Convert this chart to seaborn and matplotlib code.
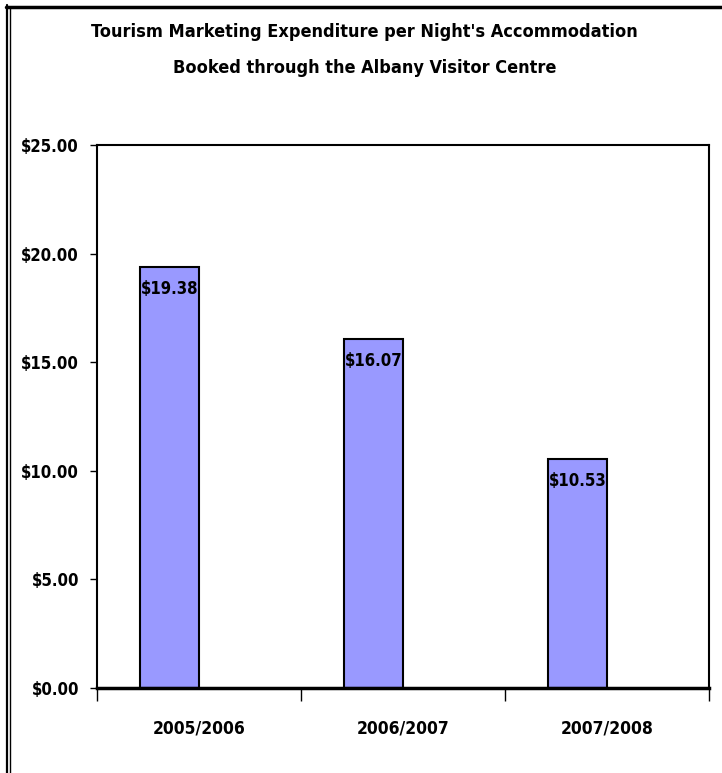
import numpy as np
import matplotlib.pyplot as plt
import seaborn as sns
import pandas as pd

# chart values
years = ['2005/2006', '2006/2007', '2007/2008']
spend = [19.38, 16.07, 10.53]
y_ticks = [0, 5, 10, 15, 20, 25]

sns.set_style('white')
plt.rcParams['font.family'] = ['DejaVu Sans']
plt.rcParams['font.stretch'] = 'condensed'
plt.rcParams['text.color'] = 'black'

df = pd.DataFrame({'year': years, 'spend': spend, 'series': 'Expenditure'})
# empty second series so bars sit left of the category centre, like the original
blank = pd.DataFrame({'year': years, 'spend': [np.nan] * len(years), 'series': 'blank'})
df = pd.concat([df, blank], ignore_index=True)

W, H = 722, 773
fig = plt.figure(figsize=(W / 100, H / 100), dpi=100)
ax = fig.add_axes([97 / W, 1 - 688 / H, (709 - 97) / W, (688 - 145) / H])

sns.barplot(data=df, x='year', y='spend', hue='series', hue_order=['Expenditure', 'blank'],
            palette=['#9999FF', '#9999FF'], saturation=1, width=0.58, dodge=True,
            edgecolor='black', linewidth=1.5, legend=False, ax=ax, errorbar=None)

ax.set_ylim(0, 25)
ax.set_xlim(-0.5, len(years) - 0.5)
ax.set_yticks(y_ticks)
ax.set_yticklabels([f'${v:.2f}' for v in y_ticks], fontsize=12, fontweight='bold')
ax.set_xticks(np.arange(len(years) + 1) - 0.5)
ax.set_xticklabels([])
for i, yr in enumerate(years):
    ax.text(i, -1.85, yr, ha='center', va='center', fontsize=12.5, fontweight='bold')
ax.tick_params(axis='both', direction='out', width=1, colors='black', bottom=True, left=True)
ax.tick_params(axis='y', length=5, pad=8)
ax.tick_params(axis='x', length=9)
ax.set_xlabel('')
ax.set_ylabel('')
for side in ['left', 'right', 'top', 'bottom']:
    ax.spines[side].set_visible(True)
    ax.spines[side].set_color('black')
    ax.spines[side].set_linewidth(1.5)
ax.spines['bottom'].set_linewidth(2.5)

# value labels inside top of each bar
for bar, val in zip(ax.patches[:len(years)], spend):
    ax.text(bar.get_x() + bar.get_width() / 2, val - 1.0, f'${val:.2f}',
            ha='center', va='center', fontsize=12, fontweight='bold')

fig.text(0.505, 1 - 50 / H,
         "Tourism Marketing Expenditure per Night's Accommodation\nBooked through the Albany Visitor Centre",
         ha='center', va='center', fontsize=13, fontweight='bold', linespacing=2.3)

# page frame: thick top rule and double rule on the left
fig.lines.append(plt.Line2D([6 / W, 1], [1 - 6.5 / H, 1 - 6.5 / H], transform=fig.transFigure,
                            color='black', linewidth=2.5))
fig.lines.append(plt.Line2D([7 / W, 7 / W], [0, 1 - 5 / H], transform=fig.transFigure,
                            color='black', linewidth=1.6))
fig.lines.append(plt.Line2D([9.8 / W, 9.8 / W], [0, 1 - 7 / H], transform=fig.transFigure,
                            color='black', linewidth=1.0))

fig.savefig('out.png', dpi=100)
